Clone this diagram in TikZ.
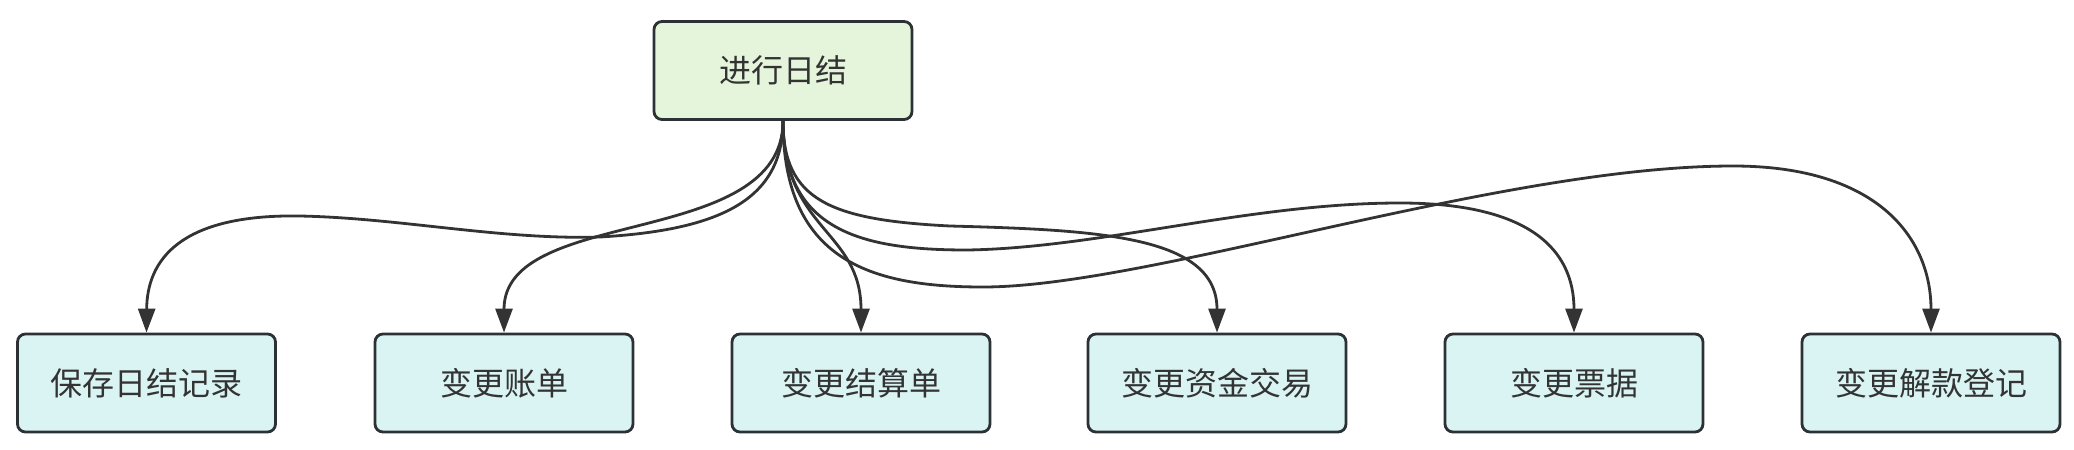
\documentclass[tikz,border=0pt]{standalone}
\usepackage{fontspec}
\setmainfont{Noto Sans CJK SC}
\usetikzlibrary{arrows.meta}
\definecolor{edgegray}{HTML}{333333}
\definecolor{boxline}{HTML}{2B3134}
\definecolor{greenfill}{HTML}{E5F5DB}
\definecolor{cyanfill}{HTML}{DAF4F4}
\begin{document}
\begin{tikzpicture}[x=0.5pt,y=-0.5pt,
  box/.style={draw=boxline,line width=1.4pt,rounded corners=4pt,fill=cyanfill,
    minimum width=129pt,minimum height=49pt,inner sep=0pt,text=edgegray,
    font=\fontsize{16pt}{19pt}\selectfont},
  startbox/.style={box,fill=greenfill},
  link/.style={draw=edgegray,line width=1.4pt,-{Triangle[length=12pt,width=8.5pt]}}]
  \useasboundingbox (0,0) rectangle (2074,450);
  \node[startbox] (rijie) at (783,70.5) {进行日结};
  \node[box] (baocun) at (146.5,383) {保存日结记录};
  \node[box] (zhangdan) at (504,383) {变更账单};
  \node[box] (jiesuan) at (861,383) {变更结算单};
  \node[box] (zijin) at (1217,383) {变更资金交易};
  \node[box] (piaoju) at (1574,383) {变更票据};
  \node[box] (jiekuan) at (1931,383) {变更解款登记};
  \draw[link] (rijie.south) .. controls (783,200) and (720,230) .. (600,237)
    .. controls (500,240) and (400,218) .. (300,216)
    .. controls (180,214) and (147,260) .. (baocun.north);
  \draw[link] (rijie.south) .. controls (783,250) and (504,205) .. (zhangdan.north);
  \draw[link] (rijie.south) .. controls (783,230) and (861,230) .. (jiesuan.north);
  \draw[link] (rijie.south) .. controls (783,200) and (830,220) .. (950,226)
    .. controls (1100,230) and (1217,236) .. (zijin.north);
  \draw[link] (rijie.south) .. controls (783,230) and (860,250) .. (967,250)
    .. controls (1100,248) and (1250,203) .. (1400,203)
    .. controls (1530,203) and (1574,250) .. (piaoju.north);
  \draw[link] (rijie.south) .. controls (783,260) and (870,287) .. (983,287)
    .. controls (1150,287) and (1500,166) .. (1733,166)
    .. controls (1880,166) and (1931,240) .. (jiekuan.north);
\end{tikzpicture}
\end{document}
